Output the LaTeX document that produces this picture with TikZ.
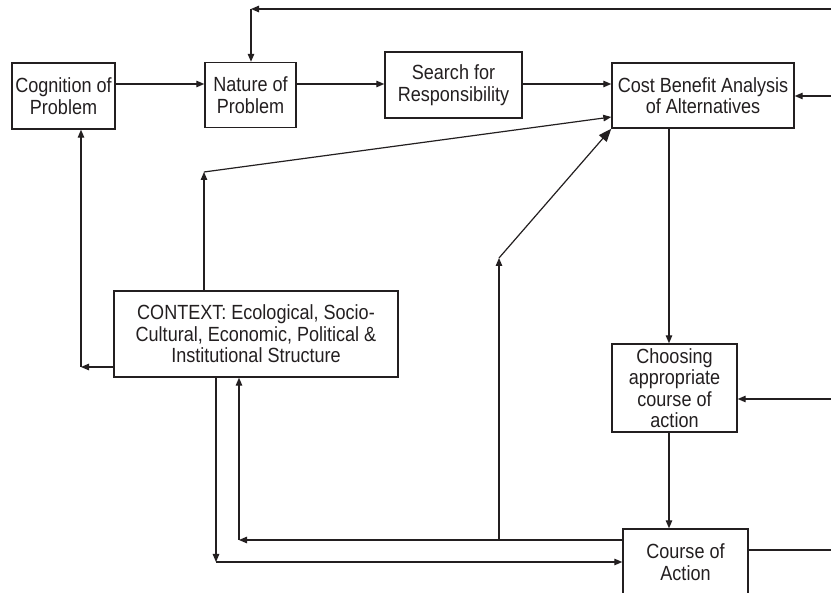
\documentclass[tikz,border=0pt]{standalone}
\usepackage{fontspec}
\setmainfont{Liberation Sans}
\usetikzlibrary{arrows.meta}
\definecolor{ink}{RGB}{35,31,32}
\begin{document}
\begin{tikzpicture}[x=1pt,y=-1pt,
  box/.style={draw=ink, text=ink, line width=1.4pt, align=center, inner sep=0pt,
    font=\addfontfeature{FakeStretch=0.88}\fontsize{20.5}{21.5}\selectfont},
  arr/.style={draw=ink, line width=1.2pt, -{Triangle[length=8pt,width=6.5pt]}},
  bigarr/.style={draw=ink, line width=1.2pt, -{Triangle[length=13pt,width=10pt]}}]
\clip (0,0) rectangle (831,593);
\fill[white] (0,0) rectangle (831,593);
% boxes
\node[box, minimum width=103pt, minimum height=66pt] (cog) at (63.5,96) {Cognition of\\Problem};
\node[box, minimum width=91pt, minimum height=65pt] (nat) at (250.5,95) {Nature of\\Problem};
\node[box, minimum width=137pt, minimum height=66pt] (srch) at (453.5,85) {Search for\\Responsibility};
\node[box, minimum width=182pt, minimum height=65pt] (cba) at (703,95.5) {Cost Benefit Analysis\\of Alternatives};
\node[box, minimum width=284pt, minimum height=86pt] (ctx) at (256,334) {CONTEXT: Ecological, Socio-\\Cultural, Economic, Political \&\\Institutional Structure};
\node[box, minimum width=125pt, minimum height=88pt] (cho) at (674.5,388) {Choosing\\appropriate\\course of\\action};
\node[box, minimum width=125pt, minimum height=66pt] (coa) at (685.5,562) {Course of\\Action};
% coordinates
\coordinate (tr) at (831,9);
\coordinate (tl) at (251,9);
\coordinate (r1) at (831,96);
\coordinate (r2) at (831,399);
\coordinate (r3) at (839,550);
\coordinate (vx) at (669,0);
\coordinate (k1) at (204,172);
\coordinate (k2) at (81,367);
\coordinate (k3) at (216,562);
\coordinate (k4) at (239,540);
\coordinate (k5) at (499,540);
\coordinate (k6) at (499,258);
\coordinate (h1) at (0,84);
\coordinate (h2) at (0,117);
% connectors
\draw[arr] (cog.east |- h1) -- (nat.west |- h1);
\draw[arr] (nat.east |- h1) -- (srch.west |- h1);
\draw[arr] (srch.east |- h1) -- (cba.west |- h1);
\draw[arr] (tr) -- (tl);
\draw[arr] (tl) -- (nat.north -| tl);
\draw[arr] (r1) -- (cba.east |- r1);
\draw[arr] (r2) -- (cho.east |- r2);
\draw[arr] (coa.east |- r3) -- (r3);
\draw[arr] (cba.south -| vx) -- (cho.north -| vx);
\draw[arr] (cho.south -| vx) -- (coa.north -| vx);
\draw[arr] (ctx.north -| k1) -- (k1);
\draw[arr] (k1) -- (cba.west |- h2);
\draw[arr] (ctx.west |- k2) -- (k2);
\draw[arr] (k2) -- (cog.south -| k2);
\draw[arr] (ctx.south -| k3) -- (k3);
\draw[arr] (k3) -- (coa.west |- k3);
\draw[arr] (coa.west |- k4) -- (k4);
\draw[arr] (k4) -- (ctx.south -| k4);
\draw[arr] (k5) -- (k6);
\draw[bigarr] (k6) -- (cba.south west);
\end{tikzpicture}
\end{document}
